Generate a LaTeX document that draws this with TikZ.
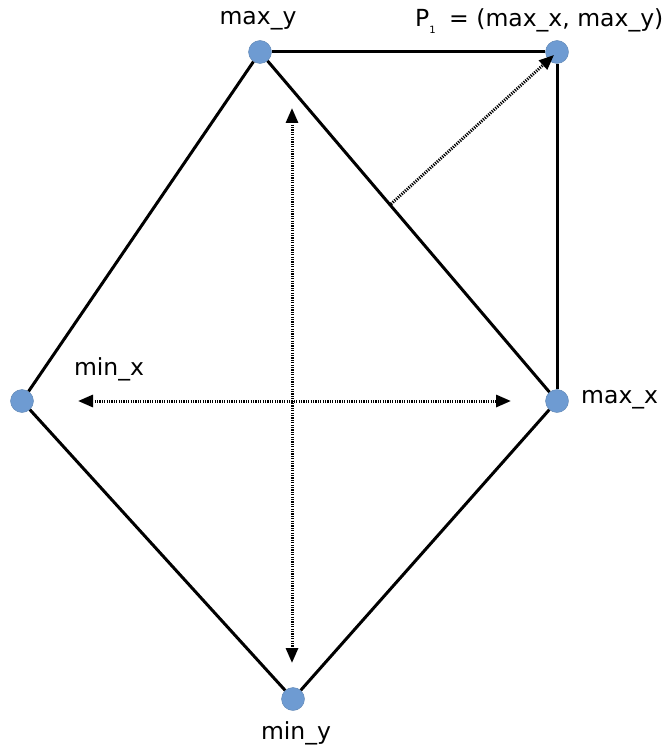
\documentclass[tikz,border=0pt]{standalone}
\usepackage{fontspec}
\setmainfont{DejaVu Sans}
\usetikzlibrary{arrows.meta}
\begin{document}
\begin{tikzpicture}[x=1pt,y=-1pt,
  pt/.style={circle,fill=ptblue,draw=ptblue!85!black,line width=0.4pt,minimum size=23pt,inner sep=0pt},
  edge/.style={line width=3pt,black},
  dotarrow/.style={line width=3pt,dash pattern=on 1.2pt off 1.2pt,{Triangle[length=15pt,width=12pt]}-{Triangle[length=15pt,width=12pt]}},
  dotarrowone/.style={line width=3pt,dash pattern=on 1.2pt off 1.2pt,-{Triangle[length=15pt,width=12pt]}},
  lbl/.style={font=\fontsize{23.5}{26}\selectfont,inner sep=0pt}]
\definecolor{ptblue}{HTML}{6E9BD2}
\useasboundingbox (0,0) rectangle (670,746);
\node[pt] (maxy) at (260,52) {};
\node[pt] (p1) at (557,52) {};
\node[pt] (minx) at (22,401) {};
\node[pt] (maxx) at (557,401) {};
\node[pt] (miny) at (293,699) {};
\draw[edge] (maxy) -- (p1);
\draw[edge] (p1) -- (maxx);
\draw[edge] (maxy) -- (minx);
\draw[edge] (maxy) -- (maxx);
\draw[edge] (minx) -- (miny);
\draw[edge] (miny) -- (maxx);
\coordinate (hl) at (78,401);
\coordinate (hr) at (511,401);
\coordinate (vt) at (292,108);
\coordinate (vb) at (292,663);
\coordinate (ds) at (391,204);
\coordinate (de) at (554,55);
\draw[dotarrow] (hl) -- (hr);
\draw[dotarrow] (vt) -- (vb);
\draw[dotarrowone] (ds) -- (de);
\node[lbl] (lmaxy) at (258,21) {max\_y};
\node[lbl,anchor=west] (lp1) at (415,21) {P\raisebox{-7pt}{\fontsize{10}{11}\selectfont 1}\hspace{6pt} = (max\_x, max\_y)};
\node[lbl] (lminx) at (109,369) {min\_x};
\node[lbl,anchor=west] (lmaxx) at (581,400) {max\_x};
\node[lbl] (lminy) at (296,733) {min\_y};
\end{tikzpicture}
\end{document}
